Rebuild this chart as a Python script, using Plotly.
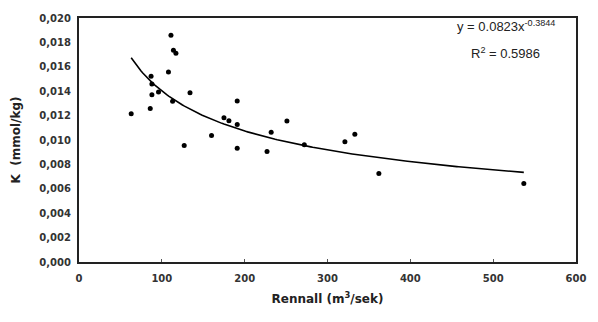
import numpy as np
import plotly.graph_objects as go

# Data
rennall = [63, 86, 87, 88, 88, 96, 108, 111, 113, 114, 117, 127, 134, 160,
           175, 181, 191, 191, 191, 227, 232, 251, 272, 321, 333, 362, 537]
k_vals = [0.01215, 0.01258, 0.01523, 0.0146, 0.01371, 0.01393, 0.01558, 0.01858,
          0.01318, 0.01736, 0.01712, 0.00955, 0.01388, 0.01036, 0.01182, 0.01158,
          0.0132, 0.01128, 0.00933, 0.00906, 0.01063, 0.01155, 0.00961, 0.00985,
          0.01047, 0.00725, 0.00644]

# Power trendline coefficients as printed on the chart
coef_a = 0.0823
coef_b = -0.3844
fit_x = np.linspace(min(rennall), max(rennall), 200)
fit_y = coef_a * fit_x ** coef_b

x_ticks = [0, 100, 200, 300, 400, 500, 600]
y_ticks = [0.000, 0.002, 0.004, 0.006, 0.008, 0.010, 0.012, 0.014, 0.016, 0.018, 0.020]

fig = go.Figure()
fig.add_trace(go.Scatter(x=fit_x, y=fit_y, mode="lines",
                         line=dict(color="black", width=1.6), hoverinfo="skip"))
fig.add_trace(go.Scatter(x=rennall, y=k_vals, mode="markers",
                         marker=dict(color="black", size=5)))

bold_font = "DejaVu Sans, Arial, sans-serif"
fig.update_layout(
    width=598, height=322,
    margin=dict(l=79, r=19, t=15, b=60),
    paper_bgcolor="white", plot_bgcolor="white",
    showlegend=False,
    separators=",.",
    font=dict(family="Liberation Sans, Arial, sans-serif", color="#222", size=10),
    xaxis=dict(range=[0, 600], tickvals=x_ticks, showgrid=False, zeroline=False,
               showline=True, linecolor="#222", linewidth=2, mirror=True,
               ticks="inside", ticklen=3, tickcolor="#555", ticklabelstandoff=6,
               tickfont=dict(size=10, family=bold_font, weight="bold", color="#333"),
               title=dict(text="Rennall (m<sup>3</sup>/sek)",
                          font=dict(size=12, family=bold_font, weight="bold", color="#222"),
                          standoff=12)),
    yaxis=dict(range=[0, 0.020], tickvals=y_ticks, tickformat=".3f", showgrid=False,
               zeroline=False, showline=True, linecolor="#222", linewidth=2, mirror=True,
               ticks="", ticklabelstandoff=4,
               tickfont=dict(size=10, family=bold_font, weight="bold", color="#333"),
               title=dict(text="K  (mmol/kg)",
                          font=dict(size=12, family=bold_font, weight="bold", color="#222"),
                          standoff=16)),
)
fig.add_annotation(xref="paper", yref="paper", x=0.962, y=0.966, xanchor="right",
                   yanchor="middle", showarrow=False,
                   text="y = 0.0823x<sup>-0.3844</sup>",
                   font=dict(size=13, color="#222", family="Liberation Sans, Arial"))
fig.add_annotation(xref="paper", yref="paper", x=0.932, y=0.858, xanchor="right",
                   yanchor="middle", showarrow=False,
                   text="R<sup>2</sup> = 0.5986",
                   font=dict(size=13, color="#222", family="Liberation Sans, Arial"))

fig.write_html("out.html")
